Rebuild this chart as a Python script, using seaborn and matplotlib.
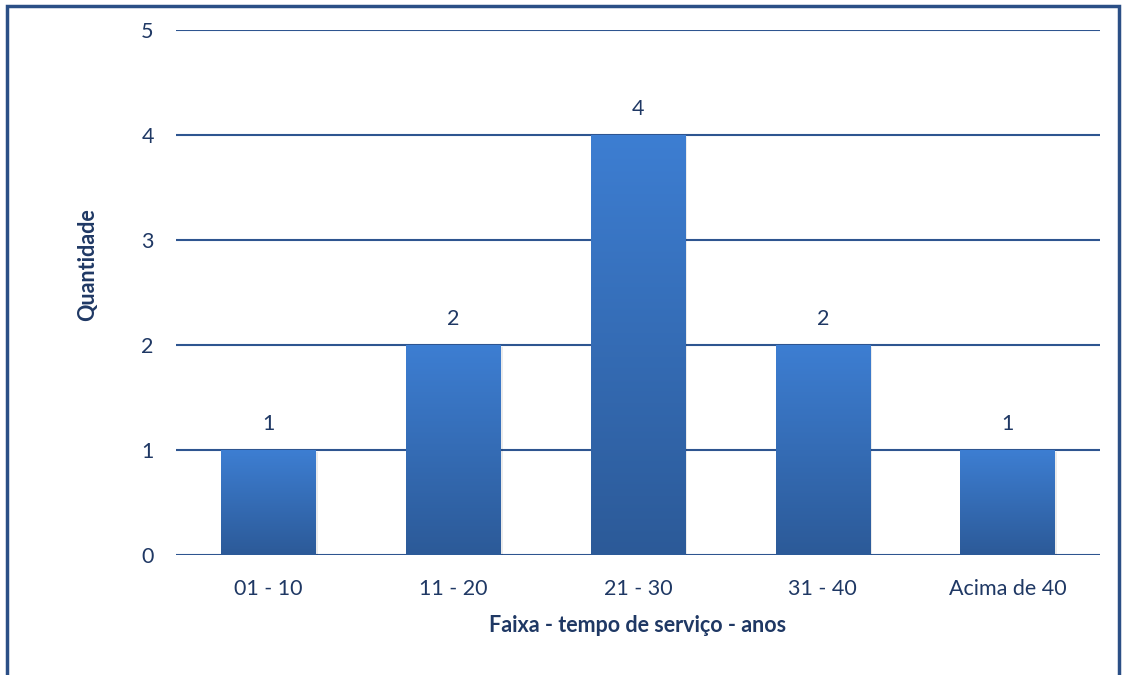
import numpy as np
import pandas as pd
import matplotlib
matplotlib.use("Agg")
import matplotlib.pyplot as plt
import seaborn as sns
from matplotlib.colors import LinearSegmentedColormap
from matplotlib.patches import Rectangle

faixas = ["01 - 10", "11 - 20", "21 - 30", "31 - 40", "Acima de 40"]
quantidades = [1, 2, 4, 2, 1]
y_ticks = [0, 1, 2, 3, 4, 5]

text_color = "#1F3864"
grid_color = "#2E5590"
frame_color = "#2B4F86"
top_blue = "#3D7ED2"
bottom_blue = "#2C5A98"

sns.set_theme(style="white")
plt.rcParams["font.family"] = ["Lato", "DejaVu Sans"]

df = pd.DataFrame({"faixa": faixas, "quantidade": quantidades})

fig = plt.figure(figsize=(11.24, 6.75), dpi=100)
ax = fig.add_axes([176 / 1124, 1 - 555 / 675, (1100 - 176) / 1124, (555 - 30) / 675])

sns.barplot(data=df, x="faixa", y="quantidade", ax=ax, width=0.51,
            color=top_blue, saturation=1, zorder=3)

ax.set_ylim(0, 5)
ax.set_xlim(-0.5, len(faixas) - 0.5)
ax.set_yticks(y_ticks)
ax.yaxis.grid(True, color=grid_color, linewidth=1.5, zorder=1)
ax.xaxis.grid(False)
for s in ax.spines.values():
    s.set_visible(False)
ax.tick_params(axis="both", length=0, labelsize=15.5, labelcolor=text_color)
ax.tick_params(axis="x", pad=17)
ax.tick_params(axis="y", pad=16)

# vertical gradient fill for each bar, with a faint shadow
cmap = LinearSegmentedColormap.from_list("barfill", [bottom_blue, top_blue])
grad = np.linspace(0, 1, 256).reshape(-1, 1)
for bar, val in zip(ax.patches, quantidades):
    x0, w, h = bar.get_x(), bar.get_width(), bar.get_height()
    shadow = Rectangle((x0 + 0.012, 0), w, h - 0.02, facecolor="#000000",
                       alpha=0.08, edgecolor="none", zorder=2)
    ax.add_patch(shadow)
    bar.set_facecolor("none")
    bar.set_edgecolor("none")
    ax.imshow(grad, extent=(x0, x0 + w, 0, h), origin="lower", cmap=cmap,
              aspect="auto", zorder=3.5)
    ax.text(x0 + w / 2, h + 0.15, str(val), ha="center", va="bottom",
            fontsize=15.5, color=text_color)

ax.set_aspect("auto")
ax.set_xlim(-0.5, len(faixas) - 0.5)
ax.set_ylim(0, 5)

ax.set_xlabel("Faixa - tempo de serviço - anos", fontsize=15.5, fontweight="bold",
              color=text_color)
ax.set_ylabel("Quantidade", fontsize=15.5, fontweight="bold", color=text_color)
ax.xaxis.set_label_coords(0.5, -(626 - 555) / 525, transform=ax.transAxes)
ax.xaxis.label.set_va("center")
ax.yaxis.set_label_coords(-(176 - 88) / 924, (555 - 265) / 525, transform=ax.transAxes)
ax.yaxis.label.set_va("center")

# outer frame around the figure
fig.add_artist(Rectangle((7 / 1124, -0.01), (1119 - 7) / 1124, 1 - 6 / 675 + 0.01,
                         transform=fig.transFigure, fill=False,
                         edgecolor=frame_color, linewidth=2.5))

fig.savefig("out.png", dpi=100)
